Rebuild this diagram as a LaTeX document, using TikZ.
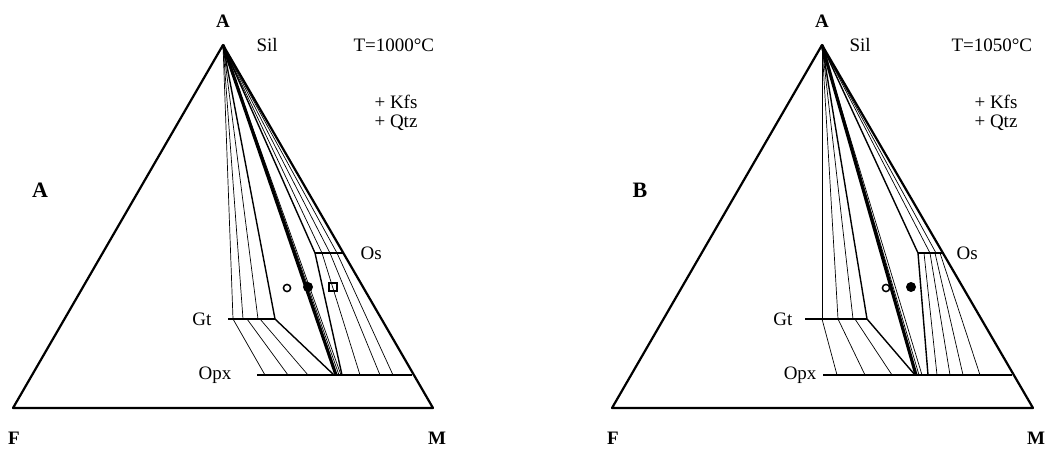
\documentclass[tikz,border=0pt]{standalone}
\usepackage{fontspec}
\setmainfont{Liberation Serif}
\begin{document}
\begin{tikzpicture}[x=1pt, y=-1pt, font=\fontsize{19}{21}\selectfont,
    tie/.style={line width=0.7pt},
    bound/.style={line width=1.4pt},
    phase/.style={line width=2.6pt},
    heavy/.style={line width=3.2pt},
    edge/.style={line width=2.2pt, line join=round},
    corner/.style={font=\bfseries\fontsize{19}{21}\selectfont},
    panel/.style={font=\bfseries\fontsize{22}{24}\selectfont}]
  \useasboundingbox (0,0) rectangle (1049,450);

  % left diagram, T = 1000 C
  \begin{scope}
    \coordinate (apexL) at (223,45);
    \coordinate (fL) at (13,408);
    \coordinate (mL) at (433,408);
    \draw[edge] (fL) -- (apexL) -- (mL) -- cycle;
    % Sil-Gt
    \foreach \x in {233,243,258} \draw[tie] (apexL) -- (\x,319);
    \draw[bound] (apexL) -- (275,319);
    \draw[phase] (228,319) -- (275,319);
    % Gt-Opx
    \foreach \a/\b in {233/265,247/288,260/308} \draw[tie] (\a,319) -- (\b,375);
    \draw[bound] (275,319) -- (334,375);
    \draw[phase] (257,375) -- (412,375);
    % Sil-Opx
    \draw[heavy] (apexL) -- (336,375);
    \draw[tie] (apexL) -- (339,375);
    \draw[tie] (apexL) -- (341,375);
    % Sil-Os, Os-Opx
    \foreach \x in {322,330,337} \draw[tie] (apexL) -- (\x,253);
    \draw[bound] (apexL) -- (315,253);
    \draw[phase] (315,253) -- (343,253);
    \draw[bound] (315,253) -- (342,375);
    \foreach \a/\b in {322/360,330/380,337/393} \draw[tie] (\a,253) -- (\b,375);
    % samples
    \draw[line width=1.5pt] (287,288) circle[radius=3.6pt];
    \fill (308,287) circle[radius=5pt];
    \draw[line width=1.6pt] (329,283) rectangle (337,291);

    \node[corner] (lblAL) at (223,21) {A};
    \node[corner] (lblFL) at (14,438) {F};
    \node[corner] (lblML) at (437,438) {M};
    \node[anchor=west] (silL) at (253,45) {Sil};
    \node[anchor=west] (tempL) at (350,45) {T=1000°C};
    \node[anchor=west] (kfsL) at (371,102) {+ Kfs};
    \node[anchor=west] (qtzL) at (371,123) {+ Qtz};
    \node[panel] (panelA) at (40,190) {A};
    \node[anchor=west] (osL) at (357,253) {Os};
    \node[anchor=east] (gtL) at (215,319) {Gt};
    \node[anchor=east] (opxL) at (235,375) {Opx};
  \end{scope}

  % right diagram, T = 1050 C
  \begin{scope}[xshift=599pt]
    \coordinate (apexR) at (223,45);
    \coordinate (fR) at (13,408);
    \coordinate (mR) at (434,408);
    \draw[edge] (fR) -- (apexR) -- (mR) -- cycle;
    % Sil-Gt
    \foreach \x in {223,239,254} \draw[tie] (apexR) -- (\x,319);
    \draw[bound] (apexR) -- (268,319);
    \draw[phase] (206,319) -- (268,319);
    % Gt-Opx
    \foreach \a/\b in {223/238,239/266,256/293} \draw[tie] (\a,319) -- (\b,375);
    \draw[bound] (268,319) -- (316,375);
    \draw[phase] (224,375) -- (413,375);
    % Sil-Opx
    \draw[heavy] (apexR) -- (317,375);
    \draw[tie] (apexR) -- (320,375);
    \draw[tie] (apexR) -- (323,375);
    % Sil-Os, Os-Opx
    \foreach \x in {331,337} \draw[tie] (apexR) -- (\x,253);
    \draw[bound] (apexR) -- (319,253);
    \draw[phase] (319,253) -- (343,253);
    \draw[bound] (319,253) -- (329,375);
    \foreach \a/\b in {325/338,331/351,336/364,341/381} \draw[tie] (\a,253) -- (\b,375);
    % samples
    \draw[line width=1.5pt] (287,288) circle[radius=3.6pt];
    \fill (312,287) circle[radius=5pt];

    \node[corner] (lblAR) at (223,21) {A};
    \node[corner] (lblFR) at (14,438) {F};
    \node[corner] (lblMR) at (437,438) {M};
    \node[anchor=west] (silR) at (247,45) {Sil};
    \node[anchor=west] (tempR) at (349,45) {T=1050°C};
    \node[anchor=west] (kfsR) at (372,102) {+ Kfs};
    \node[anchor=west] (qtzR) at (372,123) {+ Qtz};
    \node[panel] (panelB) at (41,190) {B};
    \node[anchor=west] (osR) at (354,253) {Os};
    \node[anchor=east] (gtR) at (197,319) {Gt};
    \node[anchor=east] (opxR) at (221,375) {Opx};
  \end{scope}
\end{tikzpicture}
\end{document}
